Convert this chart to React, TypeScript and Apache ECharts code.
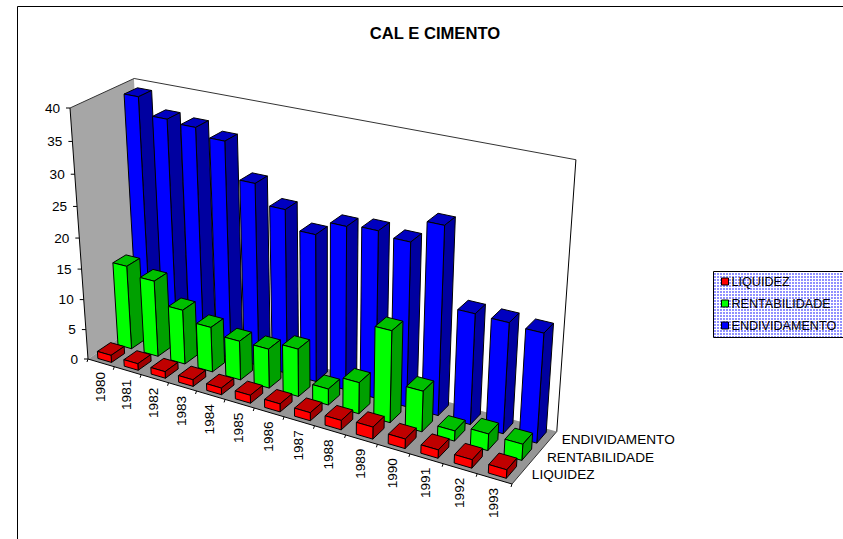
import React, { useEffect, useRef } from "react";
import * as echarts from "echarts";

const categories = ["1980","1981","1982","1983","1984","1985","1986","1987","1988","1989","1990","1991","1992","1993"];
const seriesNames = ["LIQUIDEZ","RENTABILIDADE","ENDIVIDAMENTO"];
const liquidez = [1.2,1.1,1.1,1.1,1.1,1.3,1.3,1.3,1.5,1.9,1.5,1.3,1.3,1.3];
const rentabilidade = [13.9,12.6,9,7.4,6.4,6.4,7.7,2.6,5,14.4,6.4,1.6,2.6,2.5];
const endividamento = [39,36.4,36,34.8,29.3,26.3,23.5,25.8,26.2,25.6,29.1,17.2,17.1,16.8];
const yTicks = [0,5,10,15,20,25,30,35,40];

const O = [88,359], U = [512,484], V = [70,108], W = [147,319.5];
const g = -0.14, h = -0.07, k = 0.05;
const project = (u:number,v:number,w:number) => {
  const d = 1 + g*u + h*v + k*w;
  const f = (i:number) => (O[i] + u*((1+g)*U[i]-O[i]) + v*((1+h)*V[i]-O[i]) + w*((1+k)*W[i]-O[i]))/d;
  return [f(0), f(1)];
};

const face = (pts:number[][], fill:string, stroke:string|null) => ({
  type:"polygon", shape:{points:pts}, style:{fill, stroke: stroke || "none", lineWidth:1},
});

const barSeries = (name:string, values:number[], slot:number, z:number, colors:string[]) => ({
  type:"custom", name, z, coordinateSystem:"cartesian2d", clip:false, silent:true,
  itemStyle:{color:colors[0]},
  encode:{x:0,y:1},
  data: values.map((val,i)=>[i,val]),
  renderItem:(params:any, api:any)=>{
    const cs = params.coordSys;
    const i = api.value(0), val = api.value(1);
    const norm = (x:number,y:number)=>{ const p = api.coord([x,y]); return [(p[0]-cs.x)/cs.width, 1-(p[1]-cs.y)/cs.height]; };
    const a = norm(i+0.24,0), b = norm(i+0.76,val);
    const z0=(slot+0.175)/3, z1=(slot+0.825)/3;
    const P=project;
    const [u0,v0]=a,[u1,v1]=b;
    return {type:"group",children:[
      face([P(u0,v1,z0),P(u1,v1,z0),P(u1,v1,z1),P(u0,v1,z1)],colors[2],"#000"),
      face([P(u1,v0,z0),P(u1,v0,z1),P(u1,v1,z1),P(u1,v1,z0)],colors[1],"#000"),
      face([P(u0,v0,z0),P(u1,v0,z0),P(u1,v1,z0),P(u0,v1,z0)],colors[0],"#000"),
    ]};
  },
});

const makePattern = () => {
  const c = document.createElement("canvas");
  c.width = 3; c.height = 3;
  const x = c.getContext("2d")!;
  x.fillStyle = "#ffffff"; x.fillRect(0,0,3,3);
  x.fillStyle = "#9090ff"; x.fillRect(0,0,2,2);
  return c;
};

export default function App(){
  const ref = useRef<HTMLDivElement>(null);
  useEffect(()=>{
    document.body.style.margin = "0";
    const chart = echarts.init(ref.current!, undefined, {renderer:"svg"});
    const fam = "Liberation Sans, Arial, sans-serif";
    const txt = {fontFamily:fam, fontSize:13.6};
    chart.setOption({
      animation:false,
      backgroundColor:"#fff",
      title:{text:"CAL E CIMENTO", left:430, top:20, textAlign:"center", textStyle:{fontFamily:fam,fontWeight:"bold",fontSize:16.6,color:"#000"}},
      grid:{left:100,top:100,width:400,height:200,show:false},
      xAxis:{type:"value",min:0,max:14,show:false},
      yAxis:{type:"value",min:0,max:40,interval:5,show:false},
      legend:{
        show:true, orient:"vertical", left:714, top:271, padding:[4,0,0,7], itemGap:9,
        itemWidth:7, itemHeight:7, icon:"rect", selectedMode:false,
        data:seriesNames,
        itemStyle:{borderColor:"#000",borderWidth:1},
        textStyle:{fontFamily:fam,fontSize:12.6,color:"#000",padding:[0,0,0,-2],lineHeight:13},
      },
      graphic:[
        {type:"rect",z:-5,shape:{x:17.5,y:6.5,width:900,height:600},style:{fill:"#fff",stroke:"#000",lineWidth:1}},
        {type:"rect",z:-4,shape:{x:713.5,y:271.5,width:200,height:66},style:{fill:{image:makePattern(),repeat:"repeat"},stroke:"#000",lineWidth:1}},
      ],
      series:[
        {
          type:"custom", name:"walls", z:1, coordinateSystem:"cartesian2d", clip:false, silent:true,
          data:[[0,0]], encode:{x:0,y:1},
          renderItem:()=>{
            const P=project;
            const line=(a:number[],b:number[],c="#000",w=1)=>({type:"line",shape:{x1:a[0],y1:a[1],x2:b[0],y2:b[1]},style:{stroke:c,lineWidth:w}});
            const ch:any[]=[
              face([P(0,0,0),P(0,1,0),P(0,1,1),P(0,0,1)],"#a6a6a6",null),
              face([P(0,0,1),P(1,0,1),P(1,1,1),P(0,1,1)],"#ffffff",null),
              face([P(0,0,0),P(1,0,0),P(1,0,1),P(0,0,1)],"#969696",null),
              line(P(0,0,0),P(0,1,0)),
              line(P(0,1,0),P(0,1,1),"#333"),
              line(P(0,1,1),P(1,1,1),"#333"),
              line(P(1,1,1),P(1,0,1)),
              line(P(0,0,0),P(1,0,0)),
              line(P(1,0,0),P(1,0,1),"#333"),
            ];
            yTicks.forEach(t=>{
              const p=P(0,t/40,0);
              ch.push(line([p[0]-4,p[1]],p));
              ch.push({type:"text",x:p[0]-10,y:p[1],style:{...txt,fill:"#000",text:String(t),align:"right",verticalAlign:"middle"}});
            });
            categories.forEach((c,i)=>{
              const t=P(i/14,0,0);
              ch.push(line(t,[t[0]-1,t[1]+3]));
              const m=P((i+0.5)/14,0,0);
              ch.push({type:"text",x:m[0]-1,y:m[1]+9,rotation:Math.PI/2,style:{...txt,fill:"#000",text:c,align:"right",verticalAlign:"middle"}});
            });
            const e=P(1,0,0); ch.push(line(e,[e[0]-1,e[1]+3]));
            seriesNames.forEach((n,s)=>{
              const m=P(1,0,(s+0.5)/3);
              ch.push({type:"text",x:m[0]+12,y:m[1],style:{...txt,fill:"#000",text:n,align:"left",verticalAlign:"middle"}});
            });
            return {type:"group",children:ch};
          },
        },
        barSeries("LIQUIDEZ",liquidez,0,4,["#ff0000","#a00000","#c00000"]),
        barSeries("RENTABILIDADE",rentabilidade,1,3,["#00ff00","#00a000","#00c000"]),
        barSeries("ENDIVIDAMENTO",endividamento,2,2,["#0000ff","#0000a0","#0000c0"]),
      ],
    });
    return ()=>chart.dispose();
  },[]);
  return <div ref={ref} style={{position:"fixed",left:0,top:0,width:843,height:539}} />;
}
